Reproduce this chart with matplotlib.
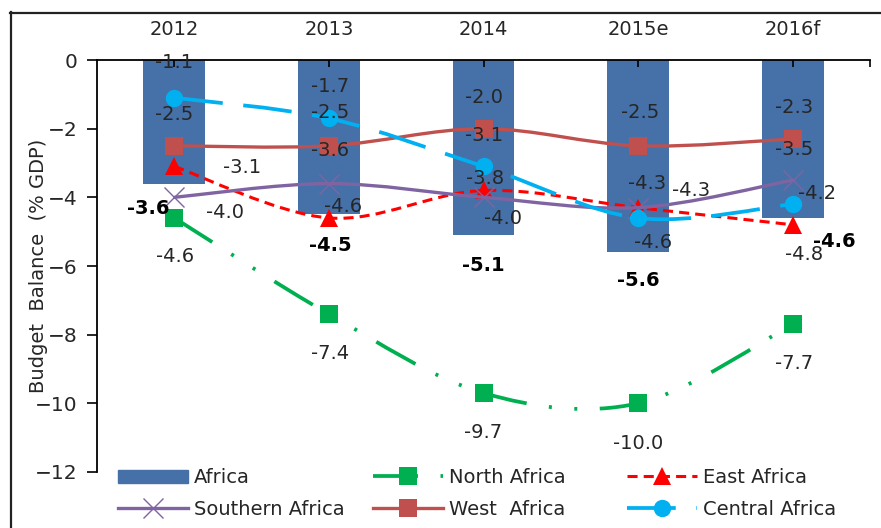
import numpy as np
import matplotlib
matplotlib.use('Agg')
import matplotlib.pyplot as plt
from matplotlib.path import Path
from matplotlib.patches import PathPatch
from matplotlib.lines import Line2D

# --- data (% GDP) ---
years = ['2012', '2013', '2014', '2015e', '2016f']
africa = [-3.6, -4.5, -5.1, -5.6, -4.6]
north_africa = [-4.6, -7.4, -9.7, -10.0, -7.7]
east_africa = [-3.1, -4.6, -3.8, -4.3, -4.8]
southern_africa = [-4.0, -3.6, -4.0, -4.3, -3.5]
west_africa = [-2.5, -2.5, -2.0, -2.5, -2.3]
central_africa = [-1.1, -1.7, -3.1, -4.6, -4.2]

# posun popisku od bodu v pixelech (dx, dy)
off_africa = [(-26, -25), (1, -31), (0, -30), (0, -28), (42, -24)]
off_north = [(1, -39), (1, -39), (0, -39), (0, -40), (1, -39)]
off_east = [(68, -1), (14, 11), (2, 12), (9, 24), (11, -30)]
off_southern = [(51, -15), (1, 33), (19, -21), (53, 17), (1, 31)]
off_west = [(0, 31), (1, 33), (0, 31), (2, 33), (1, 31)]
off_central = [(0, 35), (1, 32), (1, 31), (15, -25), (24, 11)]

plt.rcParams['font.family'] = ['DejaVu Sans']
TXT = '#262626'


def smooth_path(xs, ys):
    """Vyhlazena cara jako v Excelu (Catmull-Rom -> Bezier)."""
    pts = np.column_stack([xs, ys]).astype(float)
    n = len(pts)
    verts = [pts[0]]
    codes = [Path.MOVETO]
    for i in range(n - 1):
        p0 = pts[max(i - 1, 0)]
        p1 = pts[i]
        p2 = pts[i + 1]
        p3 = pts[min(i + 2, n - 1)]
        verts += [p1 + (p2 - p0) / 6, p2 - (p3 - p1) / 6, p2]
        codes += [Path.CURVE4] * 3
    return Path(verts, codes)


fig = plt.figure(figsize=(8.81, 5.28), dpi=100)
ax = fig.add_axes([97 / 881, 1 - 472 / 528, 773 / 881, 412 / 528])

x = np.arange(len(years))
ax.bar(x, africa, width=0.4, color='#4670A8', zorder=1)

series = [
    (north_africa, '#00B050', 2.7, (0, (12, 6, 0.8, 6, 0.8, 6)), 's', 13.5, off_north, 'North Africa'),
    (east_africa, '#FF0000', 2.2, (0, (3.3, 2.0)), '^', 13.5, off_east, 'East Africa'),
    (southern_africa, '#8064A2', 2.4, '-', 'x', 14, off_southern, 'Southern Africa'),
    (west_africa, '#C0504D', 2.4, '-', 's', 13.5, off_west, 'West  Africa'),
    (central_africa, '#00B0F0', 2.7, (0, (13, 5.5)), 'o', 12.5, off_central, 'Central Africa'),
]

handles = {}
for k, (vals, col, lw, ls, mk, ms, offs, name) in enumerate(series):
    z = 2 + k
    patch = PathPatch(smooth_path(x, vals), fill=False, edgecolor=col, lw=lw,
                      linestyle=ls, capstyle='butt', zorder=z)
    ax.add_patch(patch)
    mew = 1.0 if mk == 'x' else 0
    ax.plot(x, vals, linestyle='none', marker=mk, ms=ms, color=col,
            mec=col, mew=mew, zorder=z + 0.5)
    for xi, v, (dx, dy) in zip(x, vals, offs):
        ax.annotate(f'{v:.1f}', (xi, v), xytext=(dx, dy), textcoords='offset pixels',
                    ha='center', va='center', fontsize=14, color=TXT, zorder=20)
    handles[name] = Line2D([], [], color=col, lw=lw, linestyle=ls, marker=mk,
                           ms=ms, mec=col, mew=mew)

for xi, v, (dx, dy) in zip(x, africa, off_africa):
    ax.annotate(f'{v:.1f}', (xi, v), xytext=(dx, dy), textcoords='offset pixels',
                ha='center', va='center', fontsize=14, fontweight='bold',
                color='black', zorder=20)

ax.set_xlim(-0.5, 4.5)
ax.set_ylim(-12, 0)
ax.set_yticks([0, -2, -4, -6, -8, -10, -12])
ax.set_xticks(x)
ax.set_xticklabels(years)
ax.xaxis.tick_top()
ax.set_xticks([4.5], minor=True)
ax.tick_params(axis='x', which='both', direction='in', length=5, pad=15,
               labelsize=14, labelcolor=TXT, width=1.2)
ax.tick_params(axis='y', direction='out', length=7, pad=7, labelsize=14.5,
               labelcolor=TXT, width=1.2)
for s in ['bottom', 'right']:
    ax.spines[s].set_visible(False)
for s in ['left', 'top']:
    ax.spines[s].set_linewidth(1.3)

ax.set_ylabel('Budget  Balance  (% GDP)', fontsize=14, color=TXT)
ax.yaxis.set_label_coords(-0.064, 0.5)

# legenda po sloupcich
bar_handle = plt.Rectangle((0, 0), 1, 1, color='#4670A8')
cols = [
    ([bar_handle, handles['Southern Africa']], ['Africa', 'Southern Africa'], 118),
    ([handles['North Africa'], handles['West  Africa']], ['North Africa', 'West  Africa'], 373),
    ([handles['East Africa'], handles['Central Africa']], ['East Africa', 'Central Africa'], 627),
]
for hs, labs, xp in cols:
    fig.legend(hs, labs, loc='center left', bbox_to_anchor=(xp / 881, 1 - 493.5 / 528),
               frameon=False, fontsize=14, handlelength=3.6, handletextpad=0.3,
               borderpad=0, borderaxespad=0, labelspacing=0.65, numpoints=1,
               labelcolor=TXT)

# ramecek kolem grafu
fig.add_artist(Line2D([10.5 / 881, 10.5 / 881], [0, 1 - 12 / 528], color='#222222', lw=1.6))
fig.add_artist(Line2D([10 / 881, 1], [1 - 12.5 / 528, 1 - 12.5 / 528], color='#222222', lw=1.6))

fig.savefig('out.png', dpi=100)
